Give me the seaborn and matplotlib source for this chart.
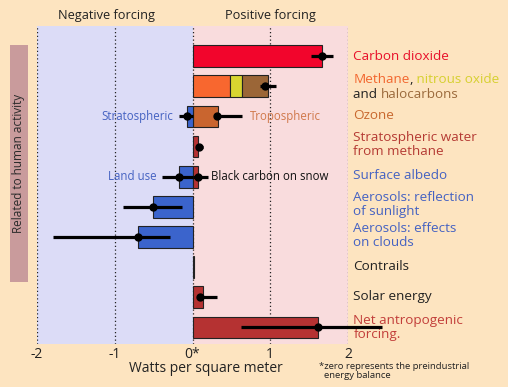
import matplotlib
matplotlib.use("Agg")
import matplotlib.pyplot as plt
import seaborn as sns
import pandas as pd
from matplotlib.patches import Rectangle

# ---------------- data ----------------
rows = ["Carbon dioxide", "Methane", "Ozone (tropospheric)", "Stratospheric water",
        "Land use", "Aerosols: reflection", "Aerosols: clouds", "Contrails",
        "Solar energy", "Net anthropogenic"]
primary_values = [1.66, 0.48, 0.33, 0.07, -0.18, -0.51, -0.70, 0.015, 0.13, 1.62]
primary_colors = ["#F2052C", "#F8672F", "#C9652F", "#B53232", "#3B64CC", "#3B64CC",
                  "#3B64CC", "#9A9A9A", "#B53232", "#B53232"]

# extra stacked / paired segments: (row index, left, width, color)
extra_rows = [1, 1, 2, 4]
extra_left = [0.48, 0.64, 0.0, 0.0]
extra_width = [0.16, 0.33, -0.075, 0.07]
extra_colors = ["#D8D530", "#9B6637", "#3B64CC", "#B53232"]

# error bars: row, center, low, high
err_rows = [0, 1, 2, 2, 3, 4, 4, 5, 6, 8, 9]
err_center = [1.66, 0.93, -0.075, 0.31, 0.08, -0.18, 0.07, -0.51, -0.70, 0.10, 1.62]
err_low = [1.52, 0.87, -0.18, 0.31, 0.08, -0.39, 0.0, -0.89, -1.79, 0.10, 0.63]
err_high = [1.81, 1.07, 0.0, 0.64, 0.13, 0.0, 0.20, -0.13, -0.29, 0.31, 2.44]

tick_values = [-2, -1, 0, 1, 2]
tick_labels = ["-2", "-1", "0*", "1", "2"]

# ---------------- style ----------------
sns.set_theme(style="white")
plt.rcParams["font.family"] = ["Open Sans", "DejaVu Sans"]

BG = "#FDE4C0"
fig = plt.figure(figsize=(5.08, 3.87), dpi=100, facecolor=BG)
W, H = 508, 387
ax = fig.add_axes([37 / W, 1 - 344 / H, (348 - 37) / W, (344 - 26) / H])
ax.set_facecolor(BG)

ax.axvspan(-2, 0, color="#DCDCF7", zorder=0, lw=0)
ax.axvspan(0, 2, color="#F9DCDD", zorder=0, lw=0)

df = pd.DataFrame({"row": rows, "value": primary_values})
sns.barplot(data=df, y="row", x="value", hue="row", palette=primary_colors,
            order=rows, hue_order=rows, width=0.72, legend=False, ax=ax,
            saturation=1, edgecolor="#222222", linewidth=0.8, zorder=2)

ax.barh(extra_rows, extra_width, left=extra_left, height=0.72,
        color=extra_colors, edgecolor="#222222", linewidth=0.8, zorder=2)

for x in tick_values:
    ax.axvline(x, color="#222222", ls=(0, (1, 2)), lw=0.9, zorder=1)

for r, c, lo, hi in zip(err_rows, err_center, err_low, err_high):
    ax.plot([lo, hi], [r, r], color="black", lw=2.3, solid_capstyle="butt",
            zorder=4, clip_on=False)
    ax.plot([c], [r], marker="o", color="black", ms=5, zorder=5, clip_on=False)

ax.set_xlim(-2, 2)
ax.set_ylim(9.55, -1.0)
ax.set_yticks([])
ax.set_ylabel("")
ax.set_xticks(tick_values)
ax.set_xticklabels(tick_labels, fontsize=10, color="#222222")
ax.tick_params(axis="x", length=0, pad=2)
ax.set_xlabel("Watts per square meter", fontsize=10, color="#222222", labelpad=2)
ax.xaxis.set_label_coords((206 - 37) / 311, -0.055)
for s in ax.spines.values():
    s.set_visible(False)

# ---------------- right labels ----------------
LX = 2.07
fs = 9.7
def rlab(y, txt, color):
    ax.text(LX, y, txt, color=color, fontsize=fs, va="center", ha="left",
            linespacing=1.08, clip_on=False)

rlab(0, "Carbon dioxide", "#E8102A")
t1 = ax.text(LX, 0.77, "Methane", color="#F2662E", fontsize=fs, va="center",
             ha="left", clip_on=False)
t2 = ax.annotate(",", xy=(1, 0), xycoords=t1, va="bottom", ha="left",
                 color="#222222", fontsize=fs)
t3 = ax.annotate(" nitrous oxide", xy=(1, 0), xycoords=t2, va="bottom", ha="left",
                 color="#D6D030", fontsize=fs)
t4 = ax.text(LX, 1.27, "and ", color="#222222", fontsize=fs, va="center",
             ha="left", clip_on=False)
ax.annotate("halocarbons", xy=(1, 0), xycoords=t4, va="bottom", ha="left",
            color="#9B6A3C", fontsize=fs)
rlab(1.98, "Ozone", "#C8682E")
rlab(2.93, "Stratospheric water\nfrom methane", "#B53A33")
rlab(3.96, "Surface albedo", "#4562C2")
rlab(4.92, "Aerosols: reflection\nof sunlight", "#4562C2")
rlab(5.95, "Aerosols: effects\non clouds", "#4562C2")
rlab(6.98, "Contrails", "#222222")
rlab(7.98, "Solar energy", "#222222")
rlab(9.0, "Net antropogenic\nforcing.", "#C23E3A")

# inline labels
ax.text(-0.25, 2, "Stratospheric", color="#4562C2", fontsize=8.3, ha="right", va="center")
ax.text(0.74, 2, "Tropospheric", color="#D0784A", fontsize=8.3, ha="left", va="center")
ax.text(-0.46, 4, "Land use", color="#4562C2", fontsize=8.3, ha="right", va="center")
ax.text(0.24, 4, "Black carbon on snow", color="#111111", fontsize=8.3, ha="left", va="center")

# top labels
fig.text(107 / W, 1 - 16 / H, "Negative forcing", fontsize=9.2, color="#222222",
         ha="center", va="center")
fig.text(270 / W, 1 - 16 / H, "Positive forcing", fontsize=9.2, color="#222222",
         ha="center", va="center")

# left bar
fig.patches.append(Rectangle((10 / W, 1 - 282 / H), 18 / W, (282 - 45) / H,
                             transform=fig.transFigure, facecolor="#C99B9C",
                             edgecolor="none", zorder=0))
fig.text(19 / W, 1 - 163.5 / H, "Related to human activity", rotation=90,
         fontsize=8.5, color="#2A2A2A", ha="center", va="center")

# footnote
fig.text(319 / W, 1 - 371 / H, "*zero represents the preindustrial\n  energy balance",
         fontsize=6.8, color="#222222", ha="left", va="center", linespacing=1.1)

fig.savefig("out.png", dpi=100, facecolor=BG)
